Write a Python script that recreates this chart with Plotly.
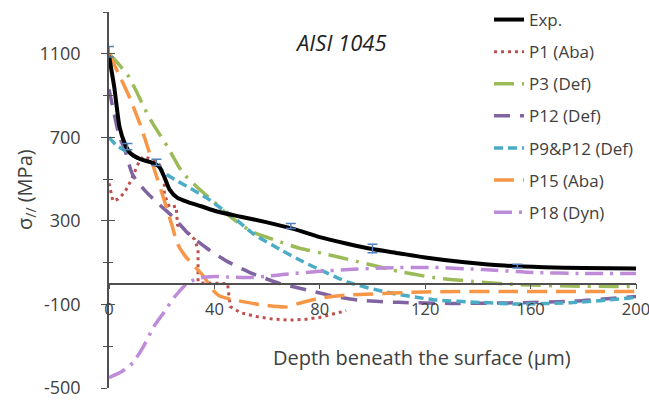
import plotly.graph_objects as go

# ---------------- data ----------------
exp_x = [0, 2, 4, 6, 8, 12, 16, 19, 21, 23, 26, 30, 35, 41, 50, 60, 70, 80, 90, 100, 110, 120, 135, 150, 165, 180, 200]
exp_y = [1090, 940, 750, 670, 625, 595, 580, 560, 510, 450, 410, 390, 370, 345, 320, 293, 262, 222, 192, 165, 145, 125, 102, 86, 78, 74, 72]

err_x = [0, 7, 18, 69, 100, 155]
err_y = [1110, 655, 580, 275, 168, 84]
err_v = [25, 15, 15, 12, 20, 9]

p1_x = [0, 1.5, 3.5, 6, 8, 10, 11.5, 13, 16, 19, 21, 21, 23, 25.5, 26, 29, 32.5, 33.8, 33.8, 35, 40, 45, 46, 50, 56, 62, 68, 74, 80, 86, 90]
p1_y = [480, 395, 405, 437, 485, 538, 585, 608, 596, 572, 514, 428, 365, 370, 280, 258, 211, 163, 10, 3, 3, 0, -110, -140, -158, -170, -175, -172, -162, -145, -130]

p3_x = [0, 3, 7, 10, 13, 16, 22, 28, 34, 40, 45, 54, 65, 72, 83, 94, 110, 123, 138, 155, 175, 200]
p3_y = [1100, 1060, 1000, 930, 851, 779, 659, 530, 455, 389, 330, 250, 200, 170, 139, 106, 58, 29, 10, -5, -12, -14]

p12_x = [0, 2, 4, 6, 9, 14, 19, 25, 30, 37, 45, 55, 65, 75, 85, 95, 110, 130, 155, 175, 200]
p12_y = [930, 810, 700, 640, 520, 440, 380, 310, 240, 170, 105, 45, 0, -30, -60, -80, -90, -95, -92, -85, -62]

p912_x = [0, 3, 7, 11, 18, 21, 26, 31, 37, 43, 47, 55, 65, 72, 79, 91, 106, 123, 142, 155, 175, 200]
p912_y = [700, 660, 630, 600, 570, 530, 490, 455, 410, 356, 320, 236, 163, 115, 72, 5, -43, -77, -91, -98, -92, -67]

p15_x = [0, 4, 8, 12, 14.5, 17.5, 20, 22, 24, 26, 29, 32.5, 36, 39, 42, 47, 57, 67, 72, 80, 90, 100, 120, 150, 200]
p15_y = [1100, 995, 885, 755, 660, 534, 437, 356, 274, 190, 130, 82, 34, -25, -60, -77, -100, -112, -95, -70, -55, -50, -40, -38, -38]

p18_x = [0, 5, 9, 13, 17, 21, 25, 30, 35, 40, 45, 53, 60, 66, 79, 91, 104, 123, 142, 161, 180, 200]
p18_y = [-450, -420, -380, -303, -207, -135, -62, 5, 28, 34, 31, 29, 35, 43, 58, 67, 75, 77, 67, 53, 48, 48]

x_ticks = [0, 40, 80, 120, 160, 200]
y_ticks = [-500, -100, 300, 700, 1100]
y_tick_text = ["-500", "-100", "300", "700", "1100"]

# ---------------- figure ----------------
TXT = "#404040"
AX = "#505050"
FONT = "Open Sans"

fig = go.Figure()

def add(name, xs, ys, color, dash, width, rank, shape="spline"):
    fig.add_trace(go.Scatter(
        x=xs, y=ys, mode="lines", name=name,
        line=dict(color=color, dash=dash, width=width, shape=shape, smoothing=0.6),
        legendgroup=name, legendrank=rank, hoverinfo="skip"))

add("P1 (Aba)", p1_x, p1_y, "#C0504D", "3px,4px", 3, 2, shape="linear")
add("P3 (Def)", p3_x, p3_y, "#9BBB59", "20px,8px,3px,8px", 3.5, 3)
add("P12 (Def)", p12_x, p12_y, "#8064A2", "16px,10px", 3.5, 4)
add("P9&P12 (Def)", p912_x, p912_y, "#4BACC6", "9px,5px", 3.5, 5)
add("P15 (Aba)", p15_x, p15_y, "#F79646", "20px,9px", 3.5, 6)
add("P18 (Dyn)", p18_x, p18_y, "#BE8BD9", "18px,7px,3px,7px", 3.5, 7)
add("Exp.", exp_x, exp_y, "black", "solid", 4, 1)

fig.add_trace(go.Scatter(
    x=err_x, y=err_y, mode="markers", marker=dict(size=1, opacity=0),
    error_y=dict(type="data", array=err_v, color="#4F81BD", thickness=1.5, width=5),
    showlegend=False, hoverinfo="skip"))

# dummy trace for inner ticks axis
fig.add_trace(go.Scatter(x=[None], y=[None], yaxis="y2", showlegend=False, hoverinfo="skip"))

ypos = (0 - (-500)) / 1800.0

fig.update_layout(
    width=649, height=400,
    margin=dict(l=109, r=13, t=12, b=12, autoexpand=False),
    plot_bgcolor="white", paper_bgcolor="white",
    font=dict(family=FONT, color=TXT),
    xaxis=dict(range=[0, 200], tickvals=x_ticks, showline=True, linecolor=AX,
               linewidth=1.5, ticks="outside", ticklen=5, tickcolor=AX,
               anchor="free", position=ypos, showgrid=False, zeroline=False,
               automargin=False, ticklabeloverflow="allow",
               tickfont=dict(size=16.5, color=TXT), ticklabelstandoff=6),
    yaxis=dict(range=[-500, 1300], tickmode="array", tickvals=y_ticks, ticktext=y_tick_text,
               showline=True, linecolor=AX,
               linewidth=1.5, ticks="outside", ticklen=6, tickcolor=AX,
               minor=dict(tick0=-500, dtick=200, ticks="outside", ticklen=4, tickcolor=AX),
               showgrid=False, zeroline=False, automargin=False, ticklabelstandoff=17,
               tickfont=dict(size=18, color=TXT)),
    yaxis2=dict(range=[-500, 1300], overlaying="y", anchor="x", side="left",
                tickvals=y_ticks, ticks="inside", ticklen=6, tickcolor=AX,
                minor=dict(tick0=-500, dtick=200, ticks="inside", ticklen=4, tickcolor=AX),
                showticklabels=False, showline=False, showgrid=False, zeroline=False,
                automargin=False),
    legend=dict(xref="container", yref="container", x=489 / 649, y=1 - 2 / 400,
                xanchor="left", yanchor="top", bgcolor="rgba(0,0,0,0)",
                font=dict(size=17, color=TXT), tracegroupgap=7, maxheight=320),
    showlegend=True,
)

fig.add_annotation(text="<i>AISI 1045</i>", xref="paper", yref="paper",
                   x=(341 - 109) / 527, y=(388 - 42) / 376, showarrow=False,
                   xanchor="center", yanchor="middle",
                   font=dict(size=22, color="#222222"))
fig.add_annotation(text="Depth beneath the surface (µm)", xref="paper", yref="paper",
                   x=(422 - 109) / 527, y=(388 - 357) / 376, showarrow=False,
                   xanchor="center", yanchor="middle",
                   font=dict(size=20, color=TXT))
fig.add_annotation(text="σ<sub>//</sub> (MPa)", xref="paper", yref="paper",
                   x=(25 - 109) / 527, y=(388 - 190) / 376, showarrow=False, textangle=-90,
                   xanchor="center", yanchor="middle",
                   font=dict(size=20, color=TXT))

fig.write_html("out.html", config={"displayModeBar": False},
               post_script="document.body.style.margin='0px';")
